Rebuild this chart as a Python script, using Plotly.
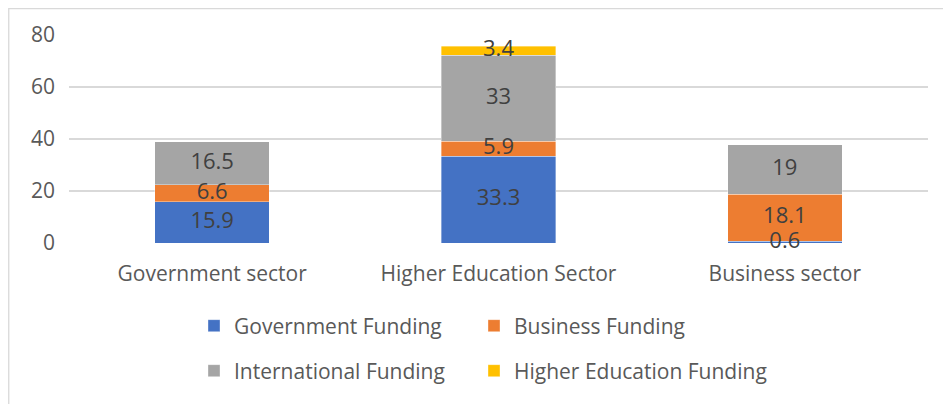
import plotly.graph_objects as go

categories = ["Government sector", "Higher Education Sector", "Business sector"]
gov_funding = [15.9, 33.3, 0.6]
business_funding = [6.6, 5.9, 18.1]
international_funding = [16.5, 33, 19]
higher_ed_funding = [None, 3.4, None]
y_ticks = [0, 20, 40, 60, 80]

series = [
    ("Government Funding", gov_funding, "#4472C4", "legend"),
    ("Business Funding", business_funding, "#ED7D31", "legend2"),
    ("International Funding", international_funding, "#A5A5A5", "legend3"),
    ("Higher Education Funding", higher_ed_funding, "#FFC000", "legend4"),
]

FONT = "Open Sans"
FS = 21
TXT = "#595959"
fig = go.Figure()
cum = [0.0] * len(categories)
lab_x, lab_y, lab_t = [], [], []
for name, vals, color, lg in series:
    fig.add_trace(go.Bar(
        x=categories, y=vals, name=name, showlegend=True,
        marker=dict(color=color, line=dict(color="rgba(255,255,255,0.6)", width=0.6)),
        legend=lg, hoverinfo="skip",
    ))
    for i, v in enumerate(vals):
        if v is None:
            continue
        lab_x.append(categories[i])
        lab_y.append(cum[i] + v / 2)
        lab_t.append(f"{v:g}")
        cum[i] += v

# data labels drawn on top of all bar segments
fig.add_trace(go.Scatter(
    x=lab_x, y=lab_y, text=lab_t, mode="text", showlegend=False,
    textposition="middle center", cliponaxis=False, hoverinfo="skip",
    textfont=dict(family=FONT, size=FS + 1, color="#404040"),
))

# page has an 8px body margin; figure coordinates are offset accordingly
OFF = 8
W, H = 951, 404
L, T = 69 - OFF, 35 - OFF
R = W - (928.5 - OFF)
B = H - (243 - OFF)
pw, ph = W - L - R, H - T - B


def legend_box(xp, yp):
    return dict(orientation="h", xref="container", yref="container",
                x=(xp - OFF) / W, xanchor="left",
                y=1 - (yp - OFF) / H, yanchor="middle",
                font=dict(family=FONT, size=FS, color=TXT),
                bgcolor="rgba(0,0,0,0)")


fig.update_layout(
    width=W, height=H, showlegend=True,
    margin=dict(l=L, r=R, t=T, b=B, pad=0, autoexpand=False),
    barmode="stack", bargap=0.6,
    plot_bgcolor="white", paper_bgcolor="white",
    font=dict(family=FONT, size=FS, color=TXT),
    xaxis=dict(showgrid=False, showline=False, ticks="", ticklabelstandoff=16,
               automargin=False, tickfont=dict(family=FONT, size=FS, color=TXT)),
    yaxis=dict(range=[0, 80], tickvals=y_ticks, showgrid=True, gridcolor="#D9D9D9",
               gridwidth=1.5, zeroline=False, showline=False, ticks="",
               ticklabelstandoff=13, automargin=False,
               tickfont=dict(family=FONT, size=FS, color=TXT)),
    legend=legend_box(194, 326),
    legend2=legend_box(474, 326),
    legend3=legend_box(194, 371),
    legend4=legend_box(474, 371),
    shapes=[dict(type="rect", xref="paper", yref="paper",
                 x0=(0.7 - L) / pw, x1=1.2, y0=-1.2, y1=1 + (T - 0.7) / ph,
                 line=dict(color="#D9D9D9", width=1.3), fillcolor="rgba(0,0,0,0)",
                 layer="below")],
)

fig.write_html("out.html")
